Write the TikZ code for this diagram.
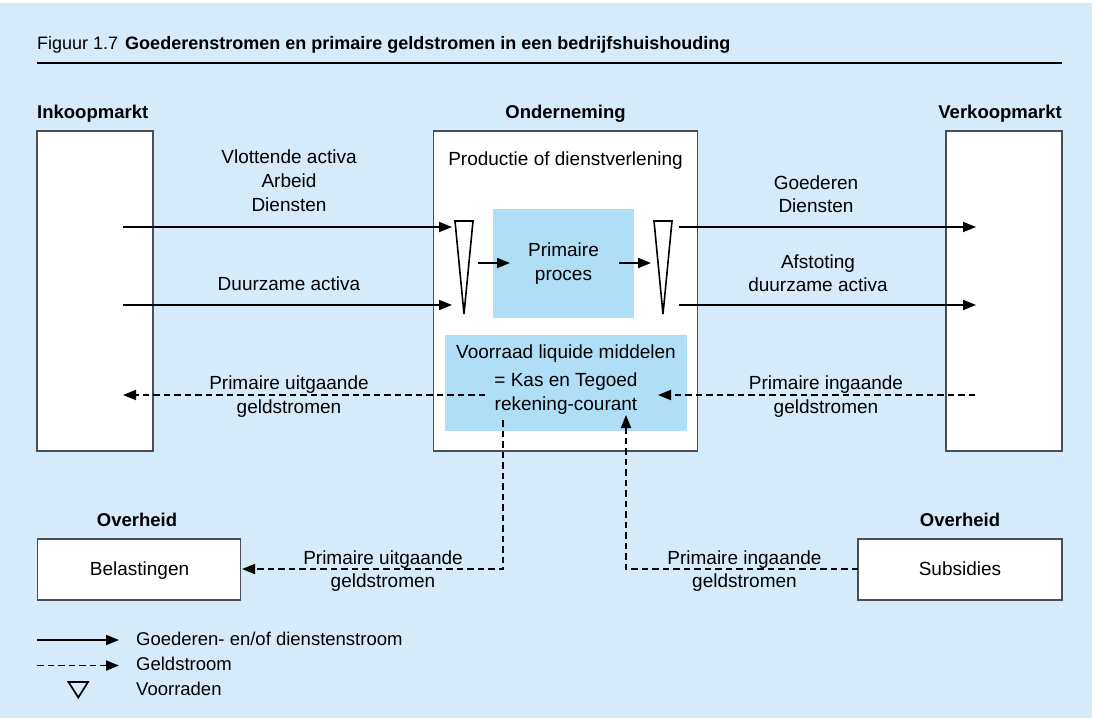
\documentclass[tikz,border=0pt]{standalone}
\usepackage{fontspec}
\setmainfont{Liberation Sans}
\usetikzlibrary{arrows.meta}
\definecolor{pagebg}{HTML}{D5EBF9}
\definecolor{procbg}{HTML}{B0DEF6}
\definecolor{edge}{HTML}{4A4F55}

\begin{document}
\begin{tikzpicture}[x=1pt,y=-1pt,
  txt/.style={inner sep=0pt, anchor=base, font=\fontsize{19}{23}\selectfont},
  lgd/.style={inner sep=0pt, anchor=base west, font=\fontsize{18.5}{22}\selectfont},
  head/.style={inner sep=0pt, anchor=base, font=\fontsize{18.5}{22}\selectfont\bfseries},
  box/.style={draw=edge, line width=1.3pt, fill=white, inner sep=0pt},
  fillbox/.style={fill=procbg, inner sep=0pt},
  flow/.style={line width=1.8pt, -{Triangle[length=13pt,width=10pt]}},
  money/.style={flow, dash pattern=on 6.5pt off 4pt},
  stock/.style={draw=black, line width=1.6pt, fill=white, line join=miter}
]
\useasboundingbox (0,0) rectangle (1093,718);
\fill[pagebg] (0,3) rectangle (1092,718);

% title and rule
\node[inner sep=0pt, anchor=base west, font=\fontsize{18}{22}\selectfont] (title) at (37,49)
  {Figuur 1.7\hspace{7pt}\textbf{Goederenstromen en primaire geldstromen in een bedrijfshuishouding}};
\coordinate (ruleL) at (37,63);
\coordinate (ruleR) at (1062,63);
\draw[line width=2.4pt] (ruleL) -- (ruleR);

% column headings
\node[head, anchor=base west] (hInkoop) at (37,118) {Inkoopmarkt};
\node[head] (hOnder) at (565.5,118) {Onderneming};
\node[head, anchor=base east] (hVerkoop) at (1062,118) {Verkoopmarkt};

% main boxes
\node[box, minimum width=116pt, minimum height=320pt] (inkoop) at (95,291) {};
\node[box, minimum width=264.5pt, minimum height=320pt] (onder) at (565.5,291) {};
\node[box, minimum width=116pt, minimum height=320pt] (verkoop) at (1004,291) {};

\node[txt] (prod) at (565.5,165) {Productie of dienstverlening};

% primary process
\node[fillbox, minimum width=141pt, minimum height=109pt] (proces) at (563.5,263.5) {};
\node[txt] (proc1) at (563.5,256.5) {Primaire};
\node[txt] (proc2) at (563.5,280) {proces};

% stocks
\coordinate (sLa) at (455,221);
\coordinate (sLb) at (473,221);
\coordinate (sLc) at (464,314);
\draw[stock] (sLa) -- (sLb) -- (sLc) -- cycle;
\coordinate (sRa) at (654,221);
\coordinate (sRb) at (672,221);
\coordinate (sRc) at (663,314);
\draw[stock] (sRa) -- (sRb) -- (sRc) -- cycle;

% cash box
\node[fillbox, minimum width=242pt, minimum height=96pt] (kas) at (566,383) {};
\node[txt] (kas1) at (566,358.5) {Voorraad liquide middelen};
\node[txt] (kas2) at (566,386) {= Kas en Tegoed};
\node[txt] (kas3) at (566,410.5) {rekening-courant};

% incoming goods
\node[txt] (in1) at (289,163) {Vlottende activa};
\node[txt] (in2) at (289,187) {Arbeid};
\node[txt] (in3) at (289,211) {Diensten};
\node[txt] (in4) at (289,290) {Duurzame activa};
\coordinate (g1s) at (123,227);
\coordinate (g1e) at (452,227);
\coordinate (g2s) at (123,305);
\coordinate (g2e) at (452,305);
\draw[flow] (g1s) -- (g1e);
\draw[flow] (g2s) -- (g2e);

% inside the firm
\coordinate (p1s) at (478,263);
\coordinate (p1e) at (510,263);
\coordinate (p2s) at (619,263);
\coordinate (p2e) at (651,263);
\draw[flow] (p1s) -- (p1e);
\draw[flow] (p2s) -- (p2e);

% outgoing goods
\node[txt] (out1) at (816,189) {Goederen};
\node[txt] (out2) at (816,212) {Diensten};
\node[txt] (out3) at (818,268) {Afstoting};
\node[txt] (out4) at (818,291) {duurzame activa};
\coordinate (o1s) at (679,227);
\coordinate (o1e) at (976,227);
\coordinate (o2s) at (679,305);
\coordinate (o2e) at (976,305);
\draw[flow] (o1s) -- (o1e);
\draw[flow] (o2s) -- (o2e);

% money flows with the markets
\node[txt] (mu1) at (289,389) {Primaire uitgaande};
\node[txt] (mu2) at (289,413) {geldstromen};
\node[txt] (mi1) at (826,389) {Primaire ingaande};
\node[txt] (mi2) at (826,413) {geldstromen};
\coordinate (m1s) at (485,395);
\coordinate (m1e) at (123,395);
\coordinate (m2s) at (975,395);
\coordinate (m2e) at (658,395);
\draw[money] (m1s) -- (m1e);
\draw[money] (m2s) -- (m2e);

% government
\node[head] (ov1) at (137,526) {Overheid};
\node[head] (ov2) at (960,526) {Overheid};
\node[box, minimum width=203pt, minimum height=61pt] (belast) at (138.7,569.5) {};
\node[box, minimum width=204pt, minimum height=61pt] (subs) at (960,569.5) {};
\node[txt] (belastT) at (139.5,575) {Belastingen};
\node[txt] (subsT) at (960,575) {Subsidies};

\node[txt] (tu1) at (383,564) {Primaire uitgaande};
\node[txt] (tu2) at (383,587) {geldstromen};
\node[txt] (ti1) at (744.5,564) {Primaire ingaande};
\node[txt] (ti2) at (744.5,587) {geldstromen};
\coordinate (t1s) at (503,420);
\coordinate (t1e) at (242,569);
\coordinate (s1s) at (858,569);
\coordinate (s1e) at (626,415);
\draw[money] (t1s) |- (t1e);
\draw[money] (s1s) -| (s1e);

% legend
\coordinate (l1s) at (37,640);
\coordinate (l1e) at (119,640);
\coordinate (l2s) at (37,665.5);
\coordinate (l2e) at (119,665.5);
\draw[flow] (l1s) -- (l1e);
\draw[money] (l2s) -- (l2e);
\coordinate (lta) at (68.5,682);
\coordinate (ltb) at (88,682);
\coordinate (ltc) at (78.3,697.5);
\draw[line width=1.7pt, line join=miter] (lta) -- (ltb) -- (ltc) -- cycle;
\node[lgd] (lg1) at (136,645.7) {Goederen- en/of dienstenstroom};
\node[lgd] (lg2) at (136,670) {Geldstroom};
\node[lgd] (lg3) at (136,695) {Voorraden};
\end{tikzpicture}
\end{document}
